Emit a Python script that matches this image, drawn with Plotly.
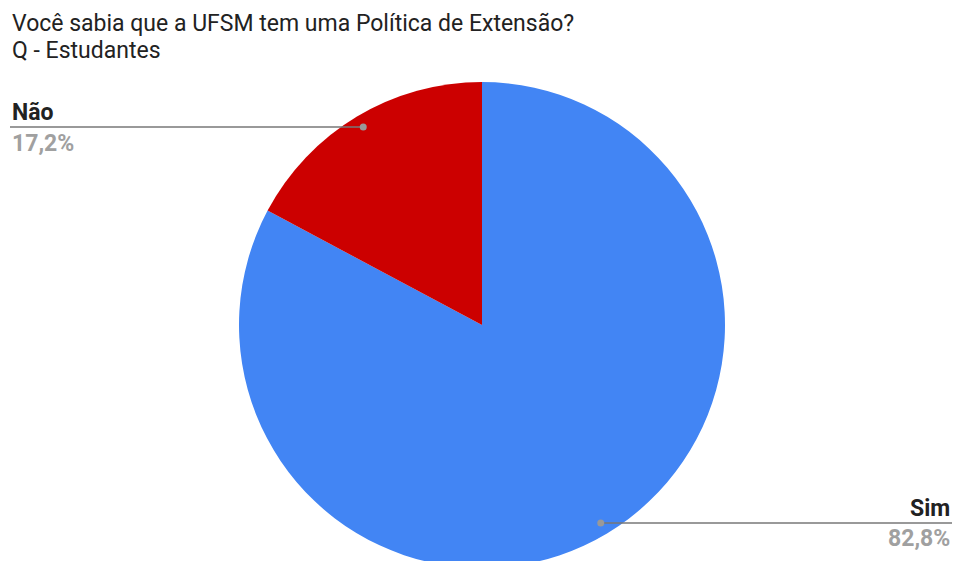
import math
import plotly.graph_objects as go

# Survey answers, in clockwise order from 12 o'clock
categories = ["Sim", "Não"]
values = [82.8, 17.2]
pct_labels = ["82,8%", "17,2%"]
colors = ["#4285F4", "#CC0000"]

title_lines = ["Você sabia que a UFSM tem uma Política de Extensão?", "Q - Estudantes"]

W, H = 955, 580
cx, cy, R = 482, 325, 243  # pie centre and radius in pixels
FONT = "Roboto"
SIZE = 23


def px(x):
    return x / W


def py(y):
    return 1 - y / H


fig = go.Figure(
    go.Pie(
        labels=categories,
        values=values,
        sort=False,
        direction="clockwise",
        rotation=0,
        marker=dict(colors=colors, line=dict(width=0)),
        textinfo="none",
        hoverinfo="label+percent",
        showlegend=False,
        domain=dict(x=[px(cx - R), px(cx + R)], y=[py(cy + R), py(cy - R)]),
    )
)

shapes = []
annotations = []
total = sum(values)
start = 0.0
for cat, v, pl in zip(categories, values, pct_labels):
    frac = v / total
    mid = start + frac / 2  # fraction of a turn, clockwise from the top
    start += frac
    ang = mid * 2 * math.pi
    ax = cx + math.sin(ang) * R * 0.95
    ay = cy - math.cos(ang) * R * 0.95
    left = ax < cx
    end_x = 10 if left else 952
    shapes.append(dict(type="line", xref="paper", yref="paper",
                       x0=px(ax), y0=py(ay), x1=px(end_x), y1=py(ay),
                       line=dict(color="#777777", width=1.5)))
    shapes.append(dict(type="circle", xref="paper", yref="paper",
                       x0=px(ax - 3.5), x1=px(ax + 3.5), y0=py(ay - 3.5), y1=py(ay + 3.5),
                       fillcolor="#999999", line=dict(width=0)))
    xa = "left" if left else "right"
    annotations.append(dict(x=px(end_x), y=py(ay - 14.5), xref="paper", yref="paper",
                            text=f"<b>{cat}</b>", showarrow=False, xanchor=xa, yanchor="middle",
                            font=dict(family=FONT, size=SIZE, color="#222222")))
    annotations.append(dict(x=px(end_x), y=py(ay + 16), xref="paper", yref="paper",
                            text=f"<b>{pl}</b>", showarrow=False, xanchor=xa, yanchor="middle",
                            font=dict(family=FONT, size=SIZE, color="#A0A0A0")))

for line, yc in zip(title_lines, [23.5, 50]):
    annotations.append(dict(x=px(10), y=py(yc), xref="paper", yref="paper",
                            text=line, showarrow=False, xanchor="left", yanchor="middle",
                            font=dict(family=FONT, size=SIZE, color="#222222")))

fig.update_layout(
    width=W, height=H,
    margin=dict(l=0, r=0, t=0, b=0),
    paper_bgcolor="white",
    plot_bgcolor="white",
    shapes=shapes,
    annotations=annotations,
)

fig.write_html("out.html", config={"displayModeBar": False},
               post_script="document.documentElement.style.overflow='hidden';document.body.style.overflow='hidden';document.body.style.margin='0';")
